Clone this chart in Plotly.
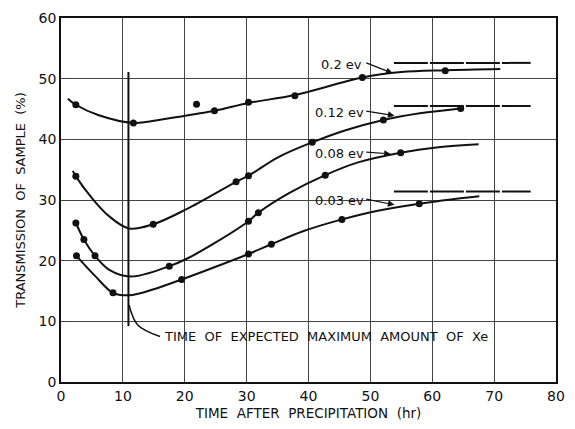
import plotly.graph_objects as go

# Measured transmission values (hr, %)
t_02 = [2.4, 11.7, 21.9, 24.8, 30.3, 37.8, 48.7, 62.1]
v_02 = [45.7, 42.7, 45.8, 44.7, 46.1, 47.2, 50.2, 51.3]
t_012 = [2.4, 14.9, 28.3, 30.3, 40.6, 52.1, 64.6]
v_012 = [33.9, 26.0, 33.0, 34.0, 39.5, 43.2, 45.1]
t_008 = [2.4, 3.7, 5.5, 17.5, 30.3, 31.9, 42.7, 54.9]
v_008 = [26.2, 23.5, 20.8, 19.1, 26.5, 27.9, 34.1, 37.8]
t_003 = [2.5, 8.4, 19.5, 30.3, 34.0, 45.4, 57.9]
v_003 = [20.8, 14.7, 16.9, 21.1, 22.7, 26.8, 29.4]

# Hand-faired curves through the measurements
c02_t = [1.1, 2.4, 6.0, 11.7, 17.0, 24.8, 30.3, 37.8, 48.7, 55.0, 62.1, 71.0]
c02_v = [46.7, 45.7, 44.0, 42.7, 43.4, 44.7, 46.0, 47.3, 50.2, 51.1, 51.4, 51.6]
c012_t = [1.9, 2.4, 5.1, 7.8, 11.0, 14.9, 20.3, 28.3, 30.3, 35.0, 40.6, 46.0, 52.1, 58.0, 64.6]
c012_v = [34.8, 33.9, 30.2, 27.3, 25.3, 26.0, 28.5, 33.0, 34.0, 37.0, 39.5, 41.5, 43.2, 44.3, 45.1]
c008_t = [2.2, 2.4, 3.7, 5.5, 7.8, 11.3, 17.5, 20.5, 25.0, 30.3, 31.9, 37.0, 42.7, 48.0, 54.9, 61.0, 67.5]
c008_v = [26.6, 26.2, 23.5, 20.8, 18.5, 17.4, 19.1, 20.4, 23.0, 26.5, 27.9, 31.2, 34.1, 36.2, 37.8, 38.7, 39.2]
c003_t = [2.5, 5.5, 8.4, 11.0, 15.0, 19.5, 25.0, 30.3, 34.0, 39.0, 45.4, 51.0, 57.9, 63.0, 67.6]
c003_v = [20.8, 17.5, 14.7, 14.3, 15.3, 16.9, 19.0, 21.1, 22.7, 24.8, 26.8, 28.2, 29.4, 30.1, 30.6]

# Limiting transmission levels (dashed)
lim_t = [53.8, 75.9]
lim_02 = [52.6, 52.6]
lim_012 = [45.5, 45.5]
lim_003 = [31.4, 31.4]

# Time of expected maximum amount of Xe
xe_t = [10.9, 10.9]
xe_v = [9.2, 51.1]
lead_t = [11.0, 12.4, 16.0]
lead_v = [12.7, 9.4, 7.5]

x_ticks = [0, 10, 20, 30, 40, 50, 60, 70, 80]
y_ticks = [0, 10, 20, 30, 40, 50, 60]

curve_labels = ["0.2 ev", "0.12 ev", "0.08 ev", "0.03 ev"]
label_t = [45.3, 45.0, 45.0, 45.0]
label_v = [52.3, 44.5, 37.7, 30.0]
tail_t = [49.1, 49.1, 49.1, 49.1]
tail_v = [52.7, 44.7, 37.9, 30.2]
head_t = [53.6, 53.9, 53.3, 53.9]
head_v = [50.9, 43.9, 37.6, 29.2]

FONT = "DejaVu Sans"
INK = "#111111"

fig = go.Figure()

for ct, cv in [(c02_t, c02_v), (c012_t, c012_v), (c008_t, c008_v), (c003_t, c003_v)]:
    fig.add_trace(go.Scatter(x=ct, y=cv, mode="lines",
                             line=dict(color=INK, width=2, shape="spline", smoothing=1.0),
                             hoverinfo="skip", showlegend=False))

for tt, vv in [(t_02, v_02), (t_012, v_012), (t_008, v_008), (t_003, v_003)]:
    fig.add_trace(go.Scatter(x=tt, y=vv, mode="markers",
                             marker=dict(color=INK, size=7),
                             showlegend=False))

for lv in [lim_02, lim_012, lim_003]:
    fig.add_trace(go.Scatter(x=lim_t, y=lv, mode="lines",
                             line=dict(color=INK, width=2, dash="34px,2px"),
                             hoverinfo="skip", showlegend=False))

fig.add_trace(go.Scatter(x=xe_t, y=xe_v, mode="lines",
                         line=dict(color=INK, width=2), showlegend=False))
fig.add_trace(go.Scatter(x=lead_t, y=lead_v, mode="lines",
                         line=dict(color=INK, width=1.5, shape="spline"),
                         showlegend=False))

fig.add_annotation(x=lead_t[-1] + 0.3, y=lead_v[-1], text="TIME  OF  EXPECTED  MAXIMUM  AMOUNT  OF  Xe",
                   showarrow=False, xanchor="left", yanchor="middle",
                   font=dict(family=FONT, size=13, color=INK))

for name, lt, lv, at, av, ht, hv in zip(curve_labels, label_t, label_v, tail_t, tail_v, head_t, head_v):
    fig.add_annotation(x=lt, y=lv, text=name, showarrow=False,
                       xanchor="center", yanchor="middle",
                       font=dict(family=FONT, size=13, color=INK))
    fig.add_annotation(x=ht, y=hv, ax=at, ay=av, axref="x", ayref="y",
                       text="", showarrow=True, arrowhead=2, arrowsize=1.1,
                       arrowwidth=1.2, arrowcolor=INK)

fig.update_xaxes(range=[0, 80], tickvals=x_ticks, ticks="", showgrid=True,
                 gridcolor="#444444", gridwidth=1, zeroline=False,
                 showline=True, linecolor=INK, linewidth=1.5, mirror=True,
                 tickfont=dict(family=FONT, size=14, color=INK),
                 title=dict(text="TIME  AFTER  PRECIPITATION  (hr)", standoff=6,
                            font=dict(family=FONT, size=13.5, color=INK)))
fig.update_yaxes(range=[0, 60], tickvals=y_ticks, ticks="", showgrid=True,
                 gridcolor="#444444", gridwidth=1, zeroline=False,
                 showline=True, linecolor=INK, linewidth=1.5, mirror=True,
                 tickfont=dict(family=FONT, size=14, color=INK),
                 title=dict(text="TRANSMISSION  OF  SAMPLE  (%)", standoff=10,
                            font=dict(family=FONT, size=13, color=INK)))

fig.update_layout(width=575, height=429, plot_bgcolor="white", paper_bgcolor="white",
                  margin=dict(l=61, r=10, t=15, b=42), showlegend=False)

fig.write_html("out.html")
